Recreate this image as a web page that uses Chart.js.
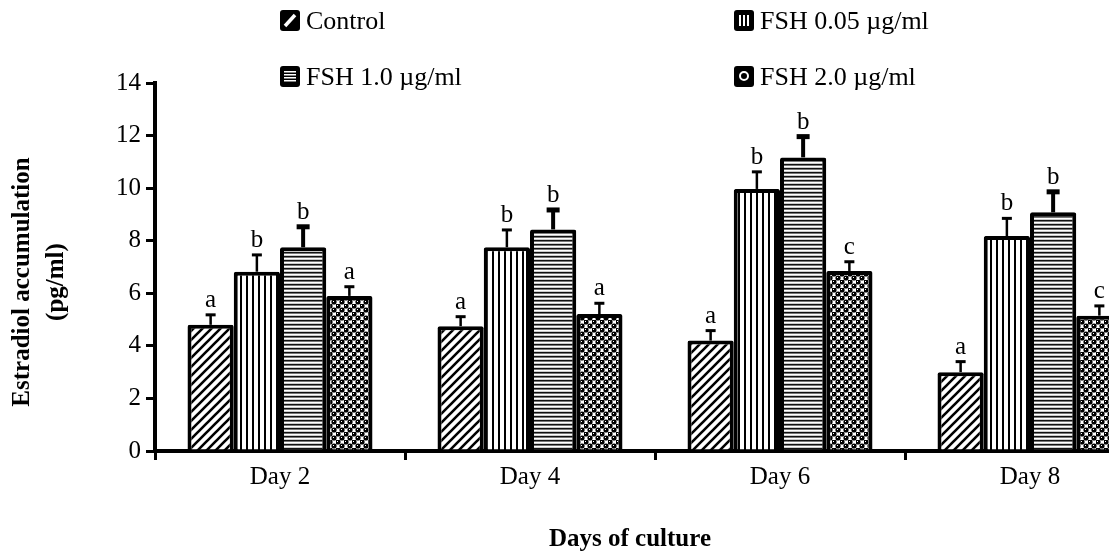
<!DOCTYPE html>
<html>
<head>
<meta charset="utf-8">
<script src="https://cdn.jsdelivr.net/npm/chart.js@4"></script>
<style>
  html, body { margin: 0; padding: 0; overflow: hidden; background: #fff; }
</style>
</head>
<body>
<canvas id="estradiolChart" width="1160" height="558"></canvas>
<script>
// values (pg/ml)
var days = ['Day 2', 'Day 4', 'Day 6', 'Day 8'];
var seriesNames = ['Control', 'FSH 0.05 \u00b5g/ml', 'FSH 1.0 \u00b5g/ml', 'FSH 2.0 \u00b5g/ml'];

var control = [4.8, 4.75, 4.2, 3.0];
var fsh005 = [6.82, 7.75, 9.97, 8.18];
var fsh10 = [7.75, 8.43, 11.17, 9.08];
var fsh20 = [5.9, 5.21, 6.85, 5.15];

var controlErr = [0.38, 0.36, 0.38, 0.4];
var fsh005Err = [0.64, 0.66, 0.65, 0.67];
var fsh10Err = [0.78, 0.74, 0.79, 0.78];
var fsh20Err = [0.35, 0.41, 0.35, 0.37];

var controlSig = ['a', 'a', 'a', 'a'];
var fsh005Sig = ['b', 'b', 'b', 'b'];
var fsh10Sig = ['b', 'b', 'b', 'b'];
var fsh20Sig = ['a', 'a', 'c', 'c'];

var yMin = 0, yMax = 14, yStep = 2;

var SERIF = '"Liberation Serif", "Times New Roman", serif';

function makePattern(kind) {
    var c = document.createElement('canvas');
    var g = c.getContext('2d');
    if (kind === 'diag') {
        c.width = 9; c.height = 9;
        g.fillStyle = '#fff'; g.fillRect(0, 0, 9, 9);
        g.strokeStyle = '#000'; g.lineWidth = 2.6;
        g.beginPath();
        g.moveTo(-1, 10); g.lineTo(10, -1);
        g.moveTo(-5, 5); g.lineTo(5, -5);
        g.moveTo(4, 14); g.lineTo(14, 4);
        g.stroke();
    } else if (kind === 'vert') {
        c.width = 6; c.height = 2;
        g.fillStyle = '#fff'; g.fillRect(0, 0, 6, 2);
        g.fillStyle = '#000'; g.fillRect(0, 0, 2, 2);
    } else if (kind === 'horiz') {
        c.width = 2; c.height = 4;
        g.fillStyle = '#fff'; g.fillRect(0, 0, 2, 4);
        g.fillStyle = '#111'; g.fillRect(0, 0, 2, 1);
        g.fillStyle = '#777'; g.fillRect(0, 1, 2, 1);
        g.fillStyle = '#ccc'; g.fillRect(0, 3, 2, 1);
    } else {
        c.width = 8; c.height = 8;
        g.fillStyle = '#fff'; g.fillRect(0, 0, 8, 8);
        g.fillStyle = '#000';
        [[2, 2], [6, 6], [-2, 6], [6, -2], [10, 6], [6, 10]].forEach(function (p) {
            g.beginPath(); g.arc(p[0], p[1], 2.6, 0, Math.PI * 2); g.fill();
        });
        g.fillStyle = '#fff';
        g.fillRect(1, 1, 1, 1); g.fillRect(5, 5, 1, 1);
    }
    return g.createPattern(c, 'repeat');
}

// error bars + significance letters
var errorBars = {
    id: 'errorBars',
    afterDatasetsDraw: function (chart) {
        var ctx = chart.ctx;
        var y = chart.scales.y;
        chart.data.datasets.forEach(function (ds, i) {
            var meta = chart.getDatasetMeta(i);
            meta.data.forEach(function (bar, j) {
                var top = y.getPixelForValue(ds.data[j] + ds.errors[j]);
                ctx.save();
                ctx.strokeStyle = '#000';
                ctx.fillStyle = '#000';
                ctx.lineWidth = ds.errLine;
                ctx.beginPath();
                ctx.moveTo(bar.x, bar.y);
                ctx.lineTo(bar.x, top);
                ctx.stroke();
                ctx.fillRect(bar.x - ds.capWidth / 2, top - ds.capThick / 2, ds.capWidth, ds.capThick);
                ctx.font = '25px ' + SERIF;
                ctx.textAlign = 'center';
                ctx.textBaseline = 'alphabetic';
                ctx.fillText(ds.letters[j], bar.x, top - 8);
                ctx.restore();
            });
        });
    }
};

// 2x2 legend, axis titles
var decorations = {
    id: 'decorations',
    afterDraw: function (chart) {
        var ctx = chart.ctx;
        var spots = [[280, 10], [734, 10], [280, 66], [734, 66]];
        ctx.save();
        chart.data.datasets.forEach(function (ds, i) {
            var x = spots[i][0], y = spots[i][1];
            ctx.fillStyle = '#000';
            ctx.beginPath();
            ctx.roundRect(x, y, 20, 21, 3);
            ctx.fill();
            ctx.strokeStyle = '#fff';
            ctx.fillStyle = '#fff';
            if (i === 0) {
                ctx.lineWidth = 3.5;
                ctx.beginPath(); ctx.moveTo(x + 5, y + 16); ctx.lineTo(x + 15, y + 5); ctx.stroke();
            } else if (i === 1) {
                ctx.fillRect(x + 5, y + 5, 2, 11);
                ctx.fillRect(x + 9, y + 5, 2, 11);
                ctx.fillRect(x + 13, y + 5, 2, 11);
            } else if (i === 2) {
                for (var k = 0; k < 4; k++) ctx.fillRect(x + 4, y + 5 + k * 3, 12, 1.5);
            } else {
                ctx.lineWidth = 2;
                ctx.beginPath(); ctx.arc(x + 10, y + 10, 4, 0, Math.PI * 2); ctx.stroke();
            }
            ctx.fillStyle = '#000';
            ctx.font = '26px ' + SERIF;
            ctx.textAlign = 'left';
            ctx.textBaseline = 'alphabetic';
            ctx.fillText(ds.label, x + 26, y + 19);
        });

        ctx.font = 'bold 25px ' + SERIF;
        ctx.textAlign = 'center';
        ctx.textBaseline = 'middle';
        ctx.fillText('Days of culture', 630, 540);

        ctx.translate(0, 282);
        ctx.rotate(-Math.PI / 2);
        ctx.fillText('Estradiol accumulation', 0, 23);
        ctx.fillText('(pg/ml)', 0, 57);
        ctx.restore();
    }
};

document.addEventListener('DOMContentLoaded', function () {
    var ctx = document.getElementById('estradiolChart').getContext('2d');

    var common = {
        borderColor: '#000',
        borderWidth: 4,
        borderRadius: 2,
        borderSkipped: 'start',
        categoryPercentage: 0.74,
        barPercentage: 1.0
    };

    var estradiolChart = new Chart(ctx, {
        type: 'bar',
        data: {
            labels: days,
            datasets: [
                Object.assign({
                    label: seriesNames[0], data: control, errors: controlErr, letters: controlSig,
                    backgroundColor: makePattern('diag'), errLine: 2.5, capWidth: 10, capThick: 3
                }, common),
                Object.assign({
                    label: seriesNames[1], data: fsh005, errors: fsh005Err, letters: fsh005Sig,
                    backgroundColor: makePattern('vert'), errLine: 2.5, capWidth: 10, capThick: 3
                }, common),
                Object.assign({
                    label: seriesNames[2], data: fsh10, errors: fsh10Err, letters: fsh10Sig,
                    backgroundColor: makePattern('horiz'), errLine: 4, capWidth: 13, capThick: 5
                }, common),
                Object.assign({
                    label: seriesNames[3], data: fsh20, errors: fsh20Err, letters: fsh20Sig,
                    backgroundColor: makePattern('dots'), errLine: 2.5, capWidth: 10, capThick: 3
                }, common)
            ]
        },
        options: {
            responsive: false,
            animation: false,
            layout: { padding: { top: 83, right: 5, left: 0, bottom: 0 } },
            plugins: {
                legend: { display: false },
                tooltip: { enabled: false }
            },
            scales: {
                x: {
                    z: 1,
                    border: { display: true, color: '#000', width: 4 },
                    grid: { display: true, drawOnChartArea: false, drawTicks: true, tickLength: 9, color: '#000', lineWidth: 3 },
                    ticks: { color: '#000', font: { family: SERIF, size: 25 }, padding: 2 },
                    afterFit: function (scale) { scale.height = 107; }
                },
                y: {
                    z: 1,
                    min: yMin,
                    max: yMax,
                    border: { display: true, color: '#000', width: 4 },
                    grid: { display: true, drawOnChartArea: false, drawTicks: true, tickLength: 9, color: '#000', lineWidth: 3 },
                    ticks: { stepSize: yStep, color: '#000', font: { family: SERIF, size: 25 }, padding: 5 },
                    afterFit: function (scale) { scale.width = 155; }
                }
            }
        },
        plugins: [errorBars, decorations]
    });
});
</script>
</body>
</html>
